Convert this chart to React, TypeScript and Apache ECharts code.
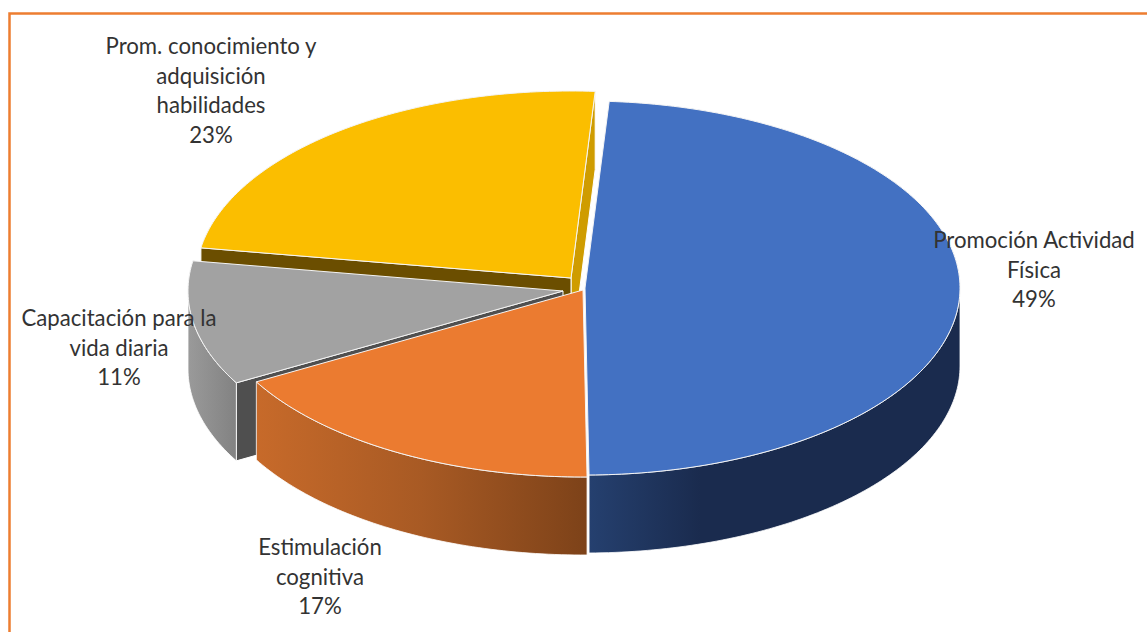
import React, { useEffect, useRef } from "react";
import * as echarts from "echarts";

// Data (share of the whole, in draw order round the pie)
const names = [
  "Promoción Actividad\nFísica",
  "Estimulación\ncognitiva",
  "Capacitación para la\nvida diaria",
  "Prom. conocimiento y\nadquisición\nhabilidades",
];
const shares = [48.8, 17, 10.75, 23.45];

// Styles and layout
const topColors = ["#4371c2", "#eb7b30", "#a2a2a2", "#fbbe00"];
const rimStops = [
  ["#25406f", "#1a2b4e", "#1a2b4e"],
  ["#c76a2a", "#a85a24", "#7d4219"],
  ["#9a9a9a", "#8e8e8e", "#828282"],
  ["#997300", "#997300", "#997300"],
];
const startCutColors = ["#1a2b4e", "#7d4219", "#4f4f4f", "#6b4e00"];
const endCutColors = ["#1a2b4e", "#7d4219", "#4f4f4f", "#cf9c00"];
const centers = [
  [585, 288],
  [583, 290],
  [563, 291],
  [571, 278],
];
const paintOrder = [30, 20, 10, 0];
const labelAnchors = [
  [1034, 269],
  [320, 576],
  [119, 347],
  [211, 90],
];
const RX = 375;
const RY = 187;
const DEPTH = 78;
const START_ANGLE = -86.3;
const LINE_H = 29.5;
const FONT = "Lato";
const FRAME = "#ed7d31";

const total = shares.reduce((a, b) => a + b, 0);

function rimPoint(c: number[], deg: number, dy = 0) {
  const r = (deg * Math.PI) / 180;
  return [c[0] + RX * Math.cos(r), c[1] + RY * Math.sin(r) + dy];
}

function arc(c: number[], from: number, to: number, dy = 0) {
  const pts: number[][] = [];
  const n = Math.max(2, Math.ceil(Math.abs(to - from)));
  for (let i = 0; i <= n; i++) pts.push(rimPoint(c, from + ((to - from) * i) / n, dy));
  return pts;
}

function cutWall(c: number[], deg: number) {
  const p = rimPoint(c, deg);
  return [
    [c[0], c[1]],
    p,
    [p[0], p[1] + DEPTH],
    [c[0], c[1] + DEPTH],
  ];
}

function renderSlice(params: any, api: any) {
  const i = params.dataIndex;
  const value = api.value(0);
  let before = 0;
  for (let k = 0; k < i; k++) before += shares[k];
  const t0 = START_ANGLE + (before / total) * 360;
  const t1 = t0 + (value / total) * 360;
  const c = centers[i];
  const z = paintOrder[i];
  const children: any[] = [];
  const edge = { stroke: "#ffffff", lineWidth: 1 };

  // Cut faces that look towards the viewer
  if (Math.sin(((t1 + 90) * Math.PI) / 180) > 0.05) {
    children.push({
      type: "polygon",
      z2: z,
      shape: { points: cutWall(c, t1) },
      style: { fill: endCutColors[i], ...edge },
    });
  }
  if (Math.sin(((t0 - 90) * Math.PI) / 180) > 0.05) {
    children.push({
      type: "polygon",
      z2: z + 1,
      shape: { points: cutWall(c, t0) },
      style: { fill: startCutColors[i], ...edge },
    });
  }

  // Outer wall: only the front half of the rim can be seen
  const a = Math.max(t0, 0);
  const b = Math.min(t1, 180);
  if (b > a) {
    const upper = arc(c, a, b);
    const lower = arc(c, b, a, DEPTH);
    const s = rimStops[i];
    const stops =
      i === 0
        ? [
            { offset: 0, color: s[0] },
            { offset: 0.3, color: s[1] },
            { offset: 1, color: s[2] },
          ]
        : s.map((color, k) => ({ offset: k / 2, color }));
    children.push({
      type: "polygon",
      z2: z + 2,
      shape: { points: upper.concat(lower) },
      style: {
        fill: new echarts.graphic.LinearGradient(0, 0, 1, 0, stops),
        stroke: "#ffffff",
        lineWidth: 0.8,
      },
    });
  }

  // Top face
  children.push({
    type: "polygon",
    z2: z + 3,
    shape: { points: [[c[0], c[1]] as number[]].concat(arc(c, t0, t1)) },
    style: { fill: topColors[i], stroke: "#f4f4f4", lineWidth: 1 },
  });

  // Label
  children.push({
    type: "text",
    z2: 100,
    style: {
      text: `${names[i]}\n${Math.round(value)}%`,
      x: labelAnchors[i][0],
      y: labelAnchors[i][1],
      align: "center",
      verticalAlign: "middle",
      fontFamily: FONT,
      fontSize: 22.2,
      lineHeight: LINE_H,
      fill: "#333333",
    },
  });

  return { type: "group", children };
}

export default function App() {
  const ref = useRef<HTMLDivElement>(null);
  useEffect(() => {
    if (!ref.current) return;
    const chart = echarts.init(ref.current, undefined, { renderer: "svg" });
    chart.setOption({
      animation: false,
      backgroundColor: "#ffffff",
      graphic: [
        {
          type: "polyline",
          z: 10,
          shape: {
            points: [
              [9.5, 640],
              [9.5, 13.5],
              [1155, 13.5],
            ],
          },
          style: { fill: "none", stroke: FRAME, lineWidth: 2.5 },
        },
      ],
      series: [
        {
          type: "custom",
          coordinateSystem: "none",
          data: shares.map((v) => [v]),
          renderItem: renderSlice,
          silent: true,
        },
      ],
    });
    return () => chart.dispose();
  }, []);
  return (
    <div
      ref={ref}
      style={{ position: "absolute", left: 0, top: 0, width: 1147, height: 632 }}
    />
  );
}
